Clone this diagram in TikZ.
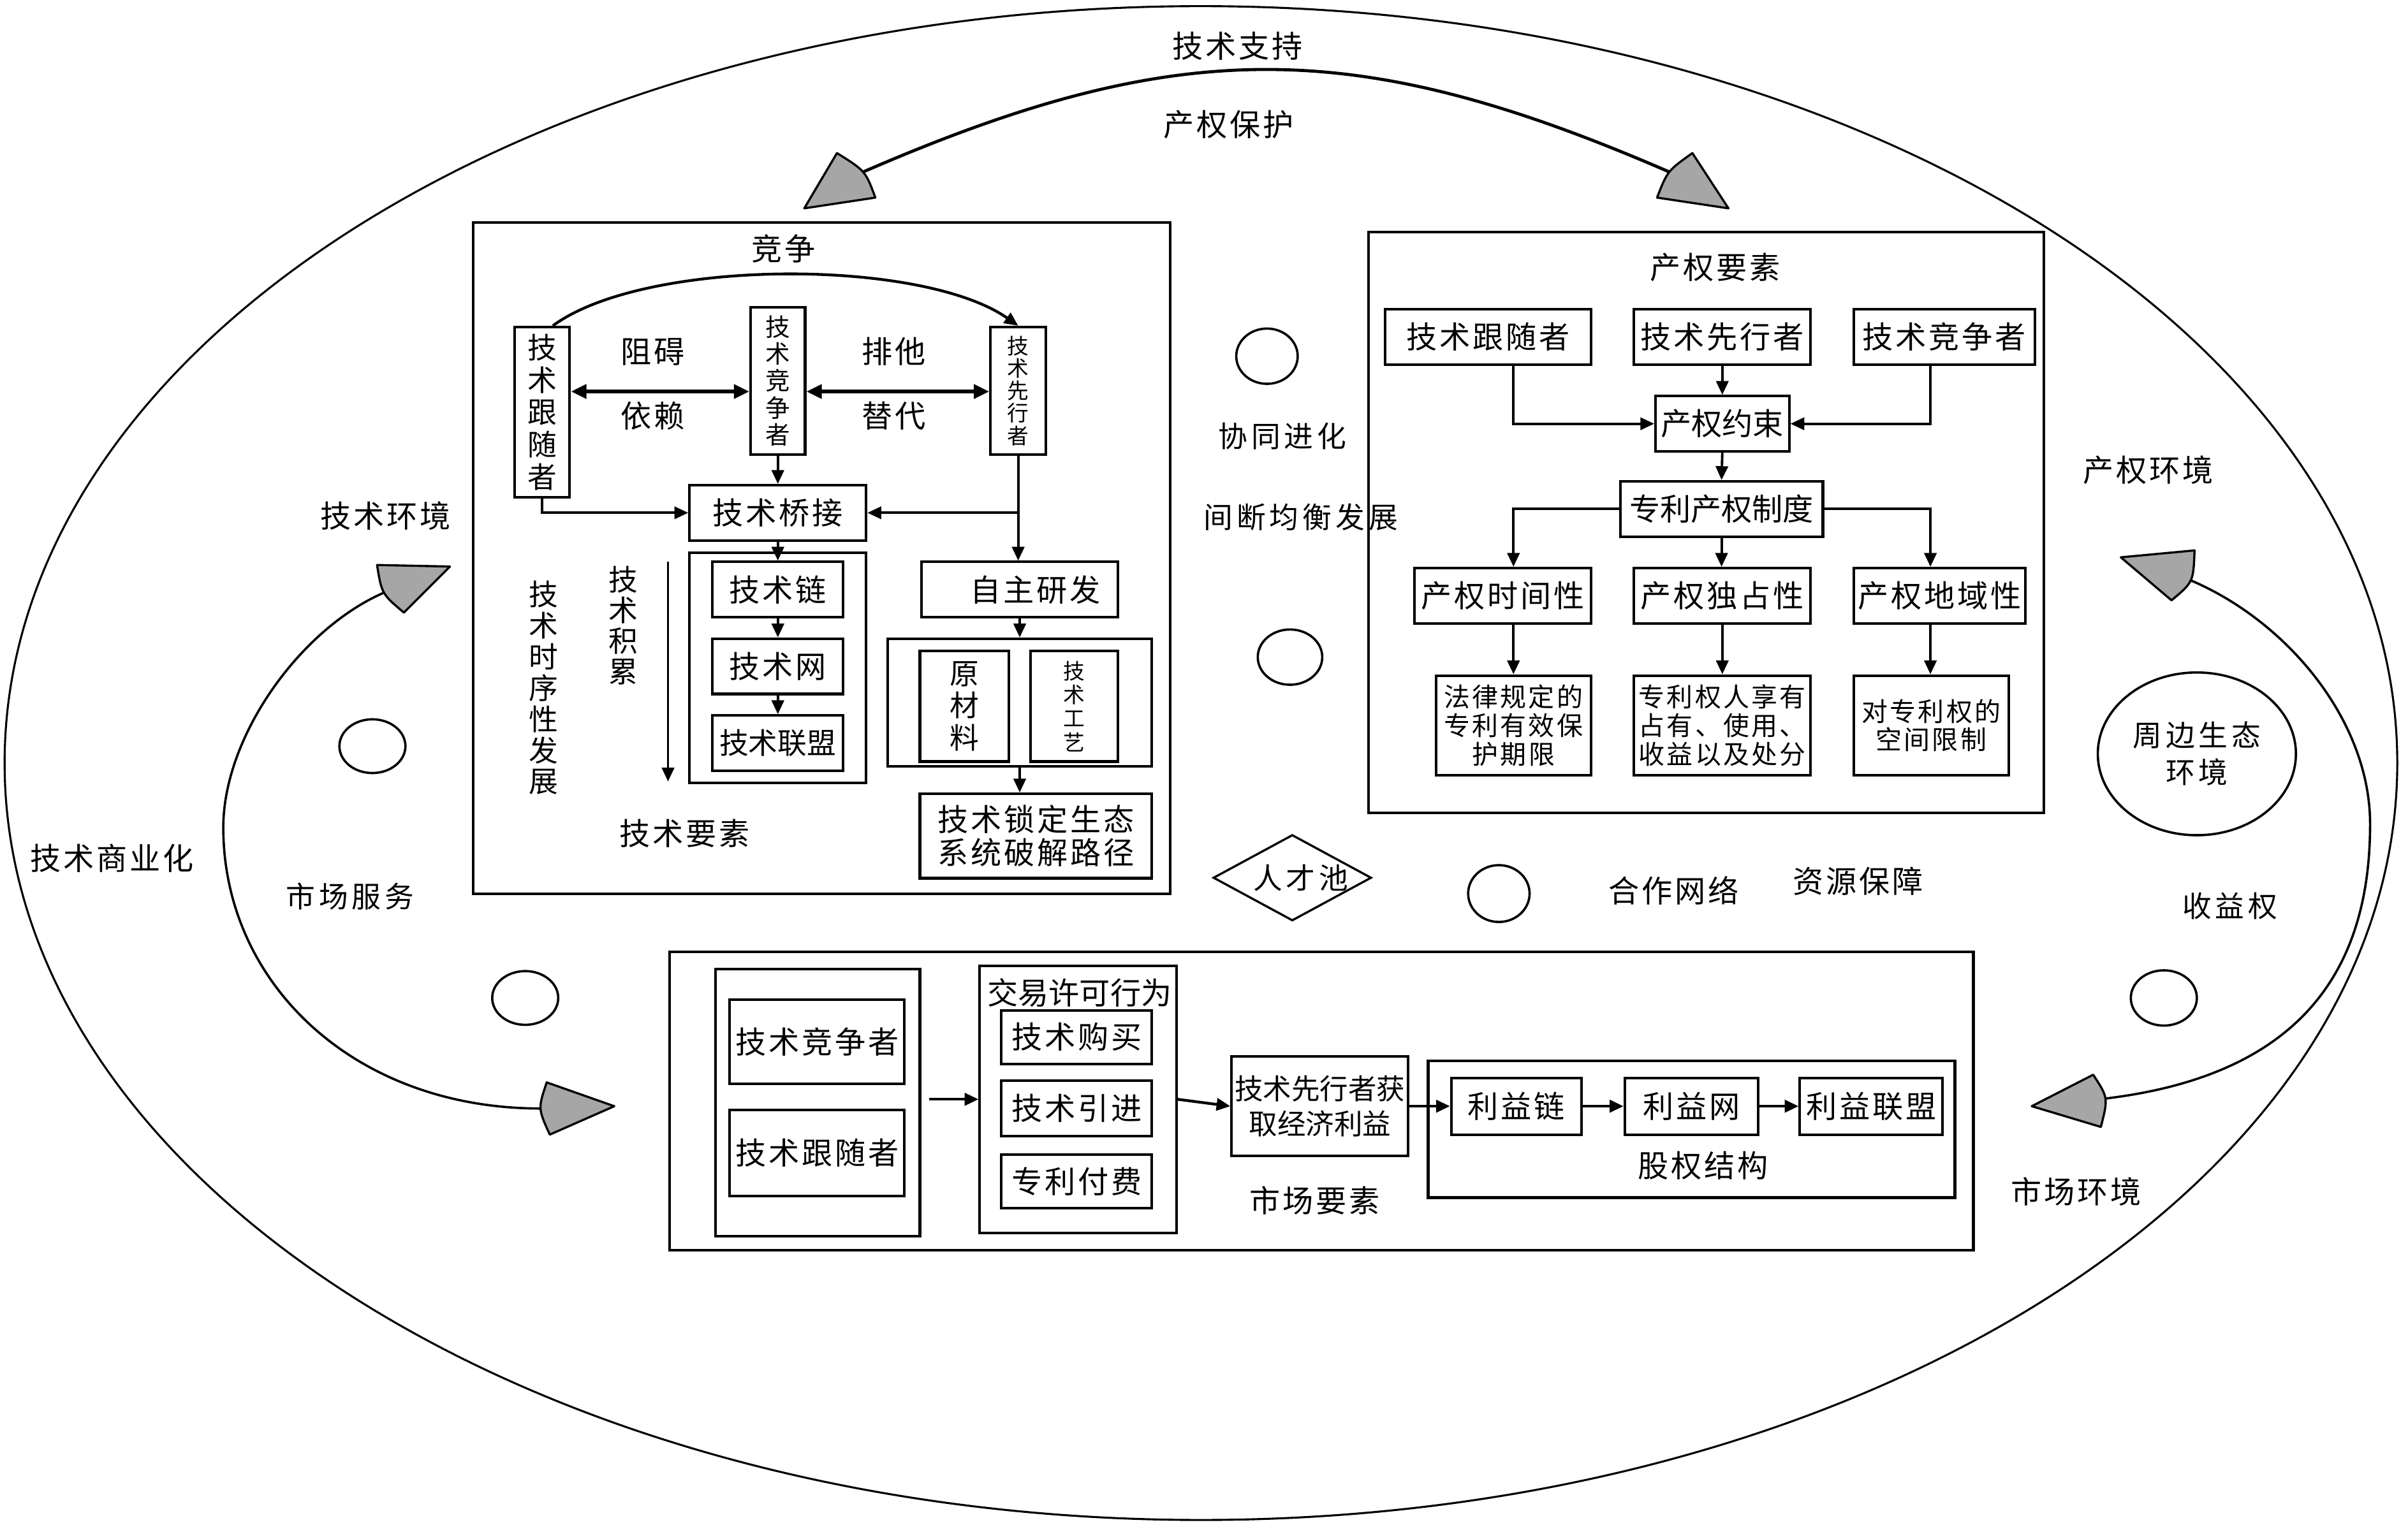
\documentclass[tikz,border=0pt]{standalone}
\usepackage{fontspec}
\newfontfamily\cjkn{Noto Sans CJK SC}
\newfontfamily\cjk[LetterSpace=8]{Noto Sans CJK SC}
\newfontfamily\cjkw[LetterSpace=13]{Noto Sans CJK SC}
\usetikzlibrary{arrows.meta,shapes.geometric}
\definecolor{agray}{HTML}{A6A6A6}
\begin{document}
\begin{tikzpicture}[x=1pt,y=-1pt,
  bx/.style={draw, line width=1.7pt, inner sep=0pt, align=center, font=\cjk\fontsize{20}{22}\selectfont},
  sz/.style 2 args={minimum width=#1pt, minimum height=#2pt},
  vt/.style={font=\cjkn\fontsize{19}{21}\selectfont},
  lbl/.style={inner sep=0pt, align=center, font=\cjk\fontsize{20}{22}\selectfont},
  widelbl/.style={inner sep=0pt, align=center, font=\cjkw\fontsize{19}{24}\selectfont},
  arr/.style={line width=1.6pt, -{Triangle[length=9pt,width=8pt]}},
  darr/.style={line width=2.4pt, {Triangle[length=10pt,width=9pt]}-{Triangle[length=10pt,width=9pt]}},
  smallell/.style={draw, ellipse, line width=1.5pt, inner sep=0pt},
  ahead/.style={fill=agray, draw=black, line width=1.4pt, line join=round},
  bigarc/.style={line width=1.5pt}
]
\useasboundingbox (0,0) rectangle (1568,993);
\fill[white] (0,0) rectangle (1568,993);

% outer ellipse
\draw[line width=1.3pt] (782,497) ellipse [x radius=779, y radius=493];

% ---------- big arcs with grey heads ----------
\coordinate (tlA) at (562,112);
\coordinate (trA) at (1087,112);
\draw[bigarc, line width=2pt] (tlA) .. controls (767,23) and (882,23) .. (trA);
\draw[ahead] (523.7,135.7) -- (545,99.7) .. controls (563.5,111.3) .. (570,128.7) -- cycle;
\draw[ahead] (1125.5,135.7) -- (1102,99.7) .. controls (1085.8,111.3) .. (1079,128.7) -- cycle;

\coordinate (luA) at (250,386);
\coordinate (llA) at (352,722);
\draw[bigarc] (luA) .. controls (195,410) and (145.4,480) .. (145.4,539) .. controls (145.4,640) and (230,722) .. (llA);
\draw[ahead] (293,369) -- (245.5,368) .. controls (248.6,386.8) .. (263,399) -- cycle;
\draw[ahead] (400,720.5) -- (356,705) .. controls (350.3,722) .. (358,739) -- cycle;

\coordinate (ruA) at (1426.5,378);
\coordinate (rlA) at (1371,715.5);
\draw[bigarc] (ruA) .. controls (1490,405) and (1543.3,470) .. (1543.3,536.7) .. controls (1543.3,630) and (1500,700) .. (rlA);
\draw[ahead] (1381,363) -- (1429,358.5) .. controls (1428.2,379.1) .. (1414,391) -- cycle;
\draw[ahead] (1323,720.5) -- (1363,700) .. controls (1372.8,715) .. (1368,734) -- cycle;

% ---------- free labels ----------
\node[lbl] (t1) at (806,30) {技术支持};
\node[lbl] (t2) at (800,81) {产权保护};
\node[lbl] (t3) at (251,336) {技术环境};
\node[lbl] (t4) at (73,559) {技术商业化};
\node[widelbl] (t5) at (228,584) {市场服务};
\node[widelbl] (t6) at (835,284) {协同进化};
\node[widelbl] (t7) at (847,337) {间断均衡发展};
\node[lbl] (t8) at (1399,306) {产权环境};
\node[widelbl] (t9) at (1452,590) {收益权};
\node[lbl] (t10) at (1352,776) {市场环境};
\node[lbl] (t11) at (1090,580) {合作网络};
\node[lbl] (t12) at (1210,574) {资源保障};

% small ellipses
\node[smallell, sz={40}{36}] (e1) at (825,232) {};
\node[smallell, sz={42}{36}] (e2) at (840,428) {};
\node[smallell, sz={43}{35}] (e3) at (242.5,486) {};
\node[smallell, sz={43}{35}] (e4) at (342,650) {};
\node[smallell, sz={40}{37}] (e5) at (976,582) {};
\node[smallell, sz={43}{36}] (e6) at (1409,650) {};
\node[smallell, sz={129}{106}, font=\cjkw\fontsize{19}{24}\selectfont, align=center] (eco) at (1430.5,491) {周边生态\\环境};
\node[draw, diamond, line width=1.4pt, inner sep=0pt, sz={103}{56}] (pool) at (841.5,571.7) {};
\node[widelbl] (poolt) at (847,572) {人才池};

% ---------- technology element box ----------
\node[bx, sz={454}{437}] (techbox) at (535,363.5) {};
\node[lbl] (tcomp) at (510,162) {竞争};
\node[bx, vt, sz={36}{111}] (fol) at (353,268.5) {技\\术\\跟\\随\\者};
\node[bx, sz={35.5}{96}, font=\cjkn\fontsize{16}{17.5}\selectfont] (comp) at (506.5,248) {技\\术\\竞\\争\\者};
\node[bx, sz={36}{83}, font=\cjkn\fontsize{14}{14.6}\selectfont] (lead) at (663,254.5) {技\\术\\先\\行\\者};
\node[lbl] (r1) at (425,229) {阻碍};
\node[lbl] (r2) at (425,271) {依赖};
\node[lbl] (r3) at (582,229) {排他};
\node[lbl] (r4) at (582,271) {替代};
\coordinate (yd) at (0,255);
\draw[darr] (fol.east |- yd) -- (comp.west |- yd);
\draw[darr] (comp.east |- yd) -- (lead.west |- yd);
\draw[arr, line width=1.8pt] ([xshift=7pt]fol.north) .. controls (420,168) and (600,168) .. (lead.north);

\node[bx, sz={115}{36}] (bridge) at (506.5,334) {技术桥接};
\node[bx, sz={115}{150}] (chainbox) at (506.5,435) {};
\node[bx, sz={85}{36}] (chain1) at (506.5,384) {技术链};
\node[bx, sz={85}{36}] (chain2) at (506.5,434) {技术网};
\node[bx, sz={85}{36}, font=\cjkn\fontsize{19}{21}\selectfont] (chain3) at (506.5,484) {技术联盟};
\draw[arr] (comp.south) -- (bridge.north);
\draw[arr] (fol.south) |- (bridge.west);
\draw[arr] (lead.south) |- (bridge.east);
\draw[arr] (bridge.south) -- (chain1.north);
\draw[arr] (chain1.south) -- (chain2.north);
\draw[arr] (chain2.south) -- (chain3.north);

\coordinate (acc1) at (435,366);
\coordinate (acc2) at (435,509);
\draw[arr] (acc1) -- (acc2);
\node[lbl, vt, font=\cjkn\fontsize{19}{20}\selectfont] (accl) at (406,407.5) {技\\术\\积\\累};
\node[lbl, font=\cjkn\fontsize{19}{20.3}\selectfont] (seql) at (354,448) {技\\术\\时\\序\\性\\发\\展};
\node[lbl] (telem) at (446,543) {技术要素};

\node[bx, sz={128}{36}] (own) at (664,384) {\hspace*{20pt}自主研发};
\node[bx, sz={172}{83}] (box2) at (664,457.5) {};
\node[bx, vt, sz={58}{72}] (raw) at (628,460) {原\\材\\料};
\node[bx, sz={57}{72}, font=\cjkn\fontsize{14}{15.5}\selectfont] (craft) at (699.5,460) {技\\术\\工\\艺};
\node[bx, sz={151}{55}, font=\cjk\fontsize{20}{21.5}\selectfont] (crack) at (674.5,544.5) {技术锁定生态\\系统破解路径};
\draw[arr] (lead.south) -- (lead.south |- own.north);
\draw[arr] (own.south) -- (box2.north);
\draw[arr] (box2.south) -- (box2.south |- crack.north);

% ---------- property right element box ----------
\node[bx, sz={440}{378.5}] (propbox) at (1111,340.25) {};
\node[lbl] (pel) at (1117,174) {产权要素};
\node[bx, sz={134}{36}] (pfol) at (969,219.5) {技术跟随者};
\node[bx, sz={115}{36}] (plead) at (1121.5,219.5) {技术先行者};
\node[bx, sz={118}{36}] (pcomp) at (1266,219.5) {技术竞争者};
\node[bx, sz={87}{36}, font=\cjkn\fontsize{20}{22}\selectfont] (pcon) at (1121.5,276) {产权约束};
\node[bx, sz={132}{36}, font=\cjkn\fontsize{20}{22}\selectfont] (patent) at (1121,331.5) {专利产权制度};
\node[bx, sz={115}{36}] (ptime) at (978.5,388) {产权时间性};
\node[bx, sz={115}{36}] (pexcl) at (1121.5,388) {产权独占性};
\node[bx, sz={112}{36}] (pterr) at (1263,388) {产权地域性};
\node[bx, sz={101}{65}, font=\cjk\fontsize{17}{18.6}\selectfont] (plaw) at (985.5,472.5) {法律规定的\\专利有效保\\护期限};
\node[bx, sz={115}{65}, font=\cjk\fontsize{17}{18.6}\selectfont] (powner) at (1121.5,472.5) {专利权人享有\\占有、使用、\\收益以及处分};
\node[bx, sz={101}{65}, font=\cjk\fontsize{17}{18.6}\selectfont] (pspace) at (1257.5,472.5) {对专利权的\\空间限制};
\coordinate (xL) at (985.5,0);
\coordinate (xR) at (1257,0);
\draw[arr] (xL |- pfol.south) |- (pcon.west);
\draw[arr] (xR |- pcomp.south) |- (pcon.east);
\draw[arr] (plead.south) -- (pcon.north);
\draw[arr] (pcon.south) -- (patent.north);
\draw[arr] (patent.west) -| (xL |- ptime.north);
\draw[arr] (patent.east) -| (xR |- pterr.north);
\draw[arr] (patent.south) -- (patent.south |- pexcl.north);
\draw[arr] (xL |- ptime.south) -- (xL |- plaw.north);
\draw[arr] (pexcl.south) -- (pexcl.south |- powner.north);
\draw[arr] (xR |- pterr.south) -- (xR |- pspace.north);

% ---------- market element box ----------
\node[bx, sz={849}{194.4}] (mktbox) at (860.5,717.2) {};
\node[bx, sz={133}{174}] (lbox) at (532.5,718) {};
\node[bx, sz={114}{55}] (bcomp) at (532,678.5) {技术竞争者};
\node[bx, sz={114}{56}] (bfol) at (532,751) {技术跟随者};
\node[bx, sz={128}{174}] (deal) at (702,716) {};
\node[lbl, font=\cjkn\fontsize{20}{22}\selectfont] (dealt) at (703,646.5) {交易许可行为};
\node[bx, sz={98}{35}] (buy) at (701,675.5) {技术购买};
\node[bx, sz={98}{36}] (intro) at (701,722) {技术引进};
\node[bx, sz={98}{35}] (fee) at (701,769.5) {专利付费};
\node[bx, sz={115}{65}, font=\cjkn\fontsize{18.5}{23}\selectfont] (gain) at (859.5,720.5) {技术先行者获\\取经济利益};
\node[bx, line width=2pt, sz={343}{89}] (equity) at (1101.5,735.5) {};
\node[bx, sz={85}{37}] (ch1) at (987.5,720.5) {利益链};
\node[bx, sz={87}{37}] (ch2) at (1101.5,720.5) {利益网};
\node[bx, sz={93}{37}] (ch3) at (1218.5,720.5) {利益联盟};
\node[lbl] (eqt) at (1109,759) {股权结构};
\node[lbl] (mel) at (856,782) {市场要素};
\draw[arr, line width=1.8pt] (lbox.east) ++(5,-2) -- (deal.west);
\draw[arr, line width=1.8pt] (deal.east) -- (gain.west);
\draw[arr, line width=1.8pt] (gain.east) -- (ch1.west);
\draw[arr, line width=1.8pt] (ch1.east) -- (ch2.west);
\draw[arr, line width=1.8pt] (ch2.east) -- (ch3.west);
\end{tikzpicture}
\end{document}
